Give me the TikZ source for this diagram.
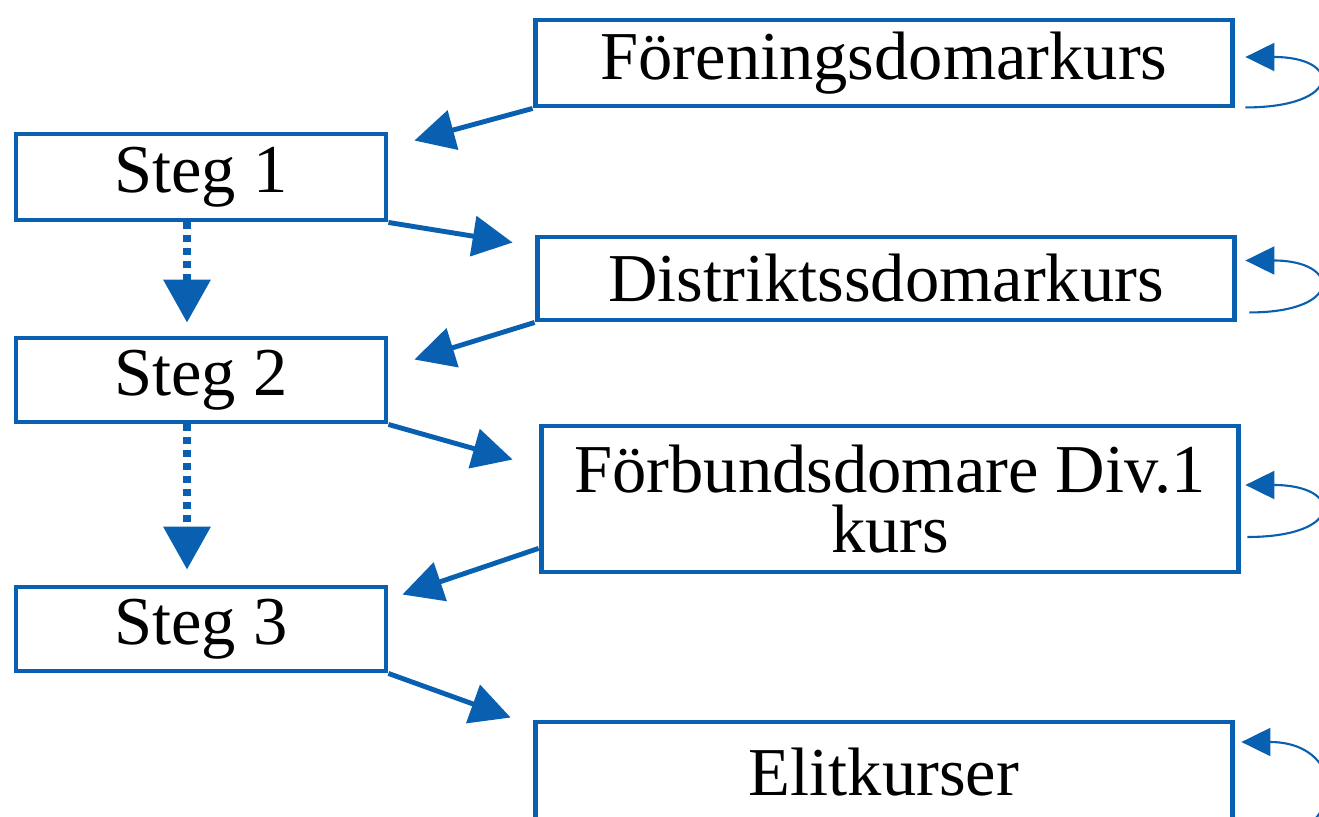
\documentclass[tikz,border=0pt]{standalone}
\usepackage{fontspec}
\setmainfont{Liberation Serif}
\usetikzlibrary{arrows.meta,calc}
\definecolor{domblue}{RGB}{10,96,176}

\begin{document}
\begin{tikzpicture}[x=0.02cm,y=-0.02cm,
    box/.style={draw=domblue,line width=2.8pt,inner sep=0pt,align=center,
      font=\fontsize{39}{34}\selectfont},
    pil/.style={draw=domblue,line width=2.8pt,-{Triangle[length=0.8cm,width=0.8cm]},domblue},
    prick/.style={draw=domblue,line width=4pt,dash pattern=on 4pt off 3.4pt,
      -{Triangle[length=0.86cm,width=0.92cm]},domblue},
    slinga/.style={draw=domblue,line width=1.2pt,-{Triangle[length=0.58cm,width=0.56cm]},domblue}]
      \useasboundingbox (0,0) rectangle (1319,817);
      \node[box,minimum width=13.96cm,minimum height=1.72cm] (foer) at (884,63) {Föreningsdomarkurs};
      \node[box,minimum width=7.4cm,minimum height=1.72cm] (s1) at (201,177) {Steg 1};
      \node[box,minimum width=13.96cm,minimum height=1.66cm] (distr) at (886,278.5) {Distriktssdomarkurs};
      \node[box,minimum width=7.4cm,minimum height=1.68cm] (s2) at (201,380) {Steg 2};
      \node[box,minimum width=13.96cm,minimum height=2.92cm] (forb) at (890,499) {Förbundsdomare Div.1\\kurs};
      \node[box,minimum width=7.4cm,minimum height=1.68cm] (s3) at (201,629) {Steg 3};
      \node[box,minimum width=13.96cm,minimum height=2.0cm] (elit) at (884,772) {Elitkurser};
      \draw[pil] (foer.south west) -- ($(s1.north east)+(26,9)$);
      \draw[pil] (s1.south east) -- ($(distr.north west)+(-22,8)$);
      \draw[pil] (distr.south west) -- ($(s2.north east)+(26,24)$);
      \draw[pil] (s2.south east) -- ($(forb.north west)+(-26,36)$);
      \draw[pil] (forb.188) -- ($(s3.north east)+(14,10)$);
      \draw[pil] (s3.south east) -- ($(elit.north west)+(-22,-2)$);
      \draw[prick] ($(s1.south)+(-14,0)$) -- ($(s2.north)+(-14,-13)$);
      \draw[prick] ($(s2.south)+(-14,0)$) -- ($(s3.north)+(-14,-15)$);
      \draw[slinga] ($(foer.south east)+(10,-1)$) .. controls +(97,0) and +(97,0) .. ($(foer.east)+(10,-6)$);
      \draw[slinga] ($(distr.south east)+(12,-10)$) .. controls +(95,0) and +(95,0) .. ($(distr.east)+(8,-18)$);
      \draw[slinga] ($(forb.east)+(6,38)$) .. controls +(98,0) and +(98,0) .. ($(forb.east)+(4,-14)$);
      \draw[slinga] ($(elit.east)+(6,73)$) .. controls +(110,0) and +(110,0) .. ($(elit.east)+(6,-30)$);
    \end{tikzpicture}
\end{document}
